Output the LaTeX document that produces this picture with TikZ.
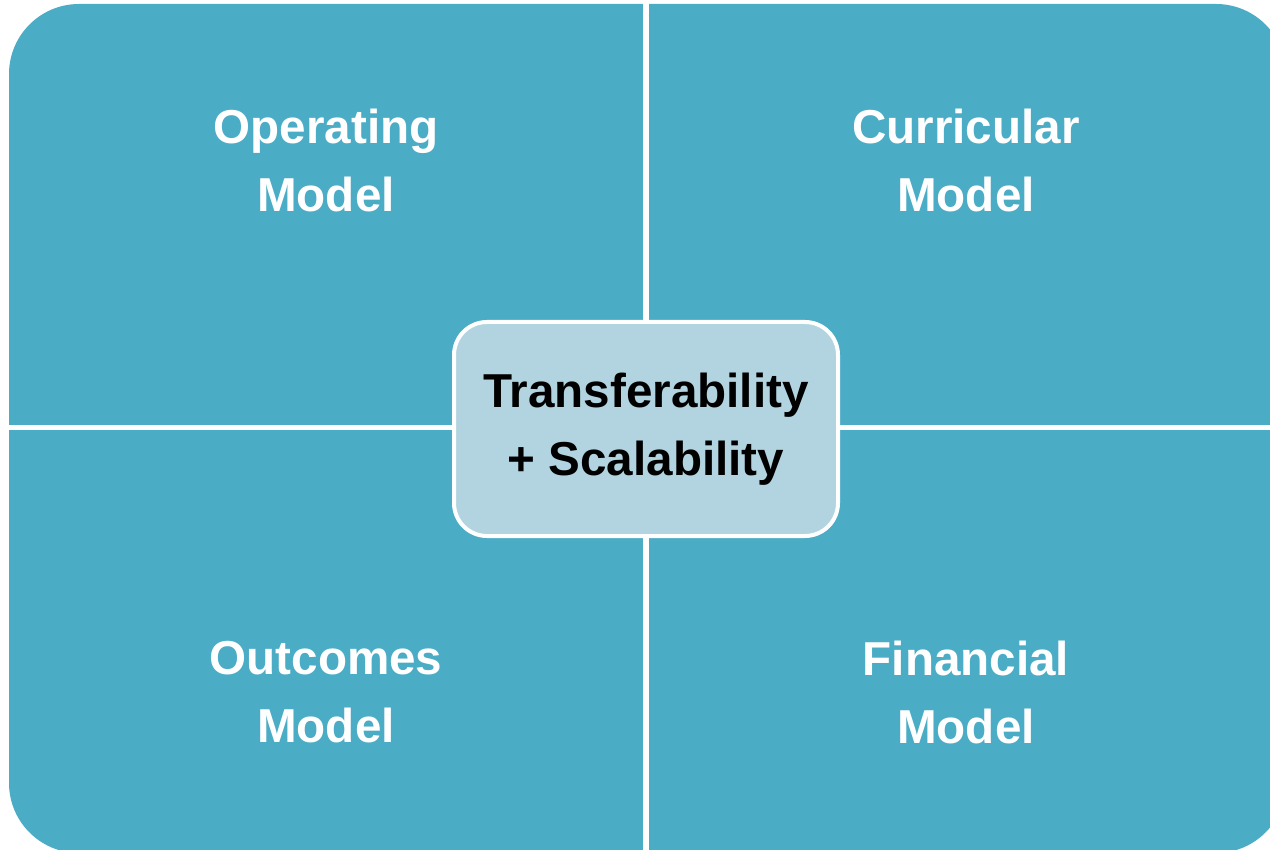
\documentclass[tikz,border=0pt]{standalone}
\usepackage{fontspec}
\setmainfont{Liberation Sans}
\definecolor{quadblue}{HTML}{4BACC6}
\definecolor{hubblue}{HTML}{B1D4E0}
\newcommand{\quadfont}{\fontsize{47.6}{68}\selectfont\bfseries}

\begin{document}
\begin{tikzpicture}[x=1pt,y=-1pt]
                        \tikzstyle{quadtext}=[text=white, align=center, font=\quadfont]
                        \tikzstyle{hub}=[draw=white, line width=4pt, fill=hubblue, rounded corners=33pt,
                            minimum width=384pt, minimum height=214pt, align=center, font=\quadfont]
                        \useasboundingbox (0,0) rectangle (1270,850);
                        \clip (0,0) rectangle (1270,850);
                        % the four quadrants
                        \fill[quadblue, rounded corners=70pt] (9,4) rectangle (1286,853);
                        \draw[white, line width=5.5pt] (646,-5) -- (646,860);
                        \draw[white, line width=5pt] (0,427.5) -- (1290,427.5);
                        \node[quadtext] (operating) at (326,160) {Operating\\Model};
                        \node[quadtext] (curricular) at (966,160) {Curricular\\Model};
                        \node[quadtext] (outcomes) at (326,692) {Outcomes\\Model};
                        \node[quadtext] (financial) at (966,692) {Financial\\Model};
                        % centre
                        \node[hub] (transfer) at (646,429) {Transferability\\+ Scalability};
                    \end{tikzpicture}
\end{document}
